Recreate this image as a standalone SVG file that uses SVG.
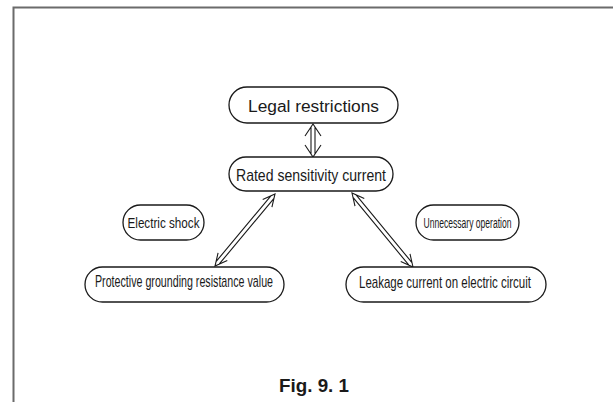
<svg xmlns="http://www.w3.org/2000/svg" width="613" height="402" viewBox="0 0 613 402">
<style>
.frame{fill:none;stroke:#6b6b6b;stroke-width:2}
.node{fill:#fff;stroke:#1a1a1a;stroke-width:1.3}
.t{font-family:"Liberation Sans",Arial,sans-serif;fill:#1a1a1a;text-anchor:middle}
.c{fill:none;stroke:#1a1a1a;stroke-width:1.1;stroke-linejoin:miter}
</style>
<rect width="613" height="402" fill="#fff"/>
<path class="frame" d="M13.5,402 V7.5 H613"/>
<g id="connectors">
<path class="c" d="M305,136 L313,124 L321,136 M311,127 V154 M315,127 V154 M305,145 L313,157 L321,145"/>
<path class="c" d="M271.93,207.06 L275,194 L262.71,199.38 M273.98,198.35 L219.10,264.21 M270.90,195.79 L216.02,261.65 M227.29,260.62 L215,266 L218.07,252.94"/>
<path class="c" d="M364.26,198.44 L352,193 L355.00,206.08 M356.08,194.82 L412.00,262.64 M353.00,197.36 L408.92,265.18 M410.00,253.92 L413,267 L400.74,261.56"/>
</g>
<g id="legal">
<rect class="node" x="229" y="87" width="169" height="36" rx="18"/>
<text class="t" x="313.5" y="112" font-size="16" textLength="131" lengthAdjust="spacingAndGlyphs">Legal restrictions</text>
</g>
<g id="rated">
<rect class="node" x="229" y="157" width="164" height="34" rx="17"/>
<text class="t" x="311" y="181" font-size="17" textLength="150" lengthAdjust="spacingAndGlyphs">Rated sensitivity current</text>
</g>
<g id="shock">
<rect class="node" x="123" y="205" width="81" height="35" rx="17.5"/>
<text class="t" x="163.5" y="228" font-size="15" textLength="72" lengthAdjust="spacingAndGlyphs">Electric shock</text>
</g>
<g id="unnecessary">
<rect class="node" x="416" y="205" width="103" height="35" rx="17.5"/>
<text class="t" x="467.5" y="228" font-size="14" textLength="88" lengthAdjust="spacingAndGlyphs">Unnecessary operation</text>
</g>
<g id="protective">
<rect class="node" x="85" y="267" width="199" height="35" rx="17.5"/>
<text class="t" x="184" y="287" font-size="17" textLength="178" lengthAdjust="spacingAndGlyphs">Protective grounding resistance value</text>
</g>
<g id="leakage">
<rect class="node" x="346" y="267" width="200" height="35" rx="17.5"/>
<text class="t" x="445" y="288" font-size="17" textLength="172" lengthAdjust="spacingAndGlyphs">Leakage current on electric circuit</text>
</g>
<text class="t" x="314" y="392" font-size="19" font-weight="bold" textLength="70" lengthAdjust="spacingAndGlyphs">Fig. 9. 1</text>
</svg>
